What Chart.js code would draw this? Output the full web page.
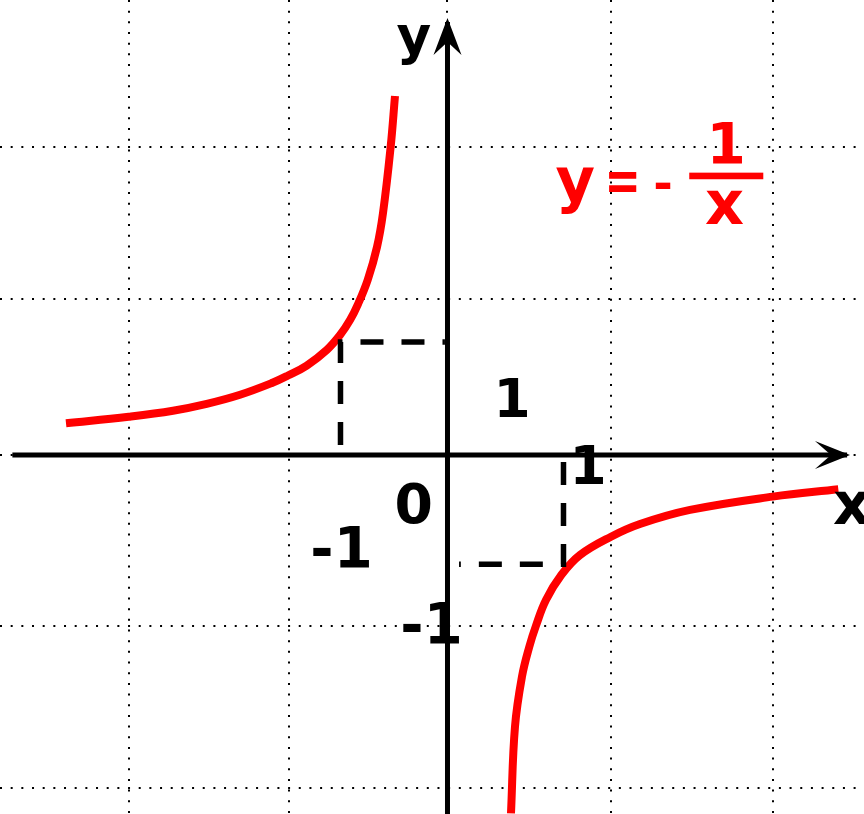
<!DOCTYPE html>
<html><head><meta charset="utf-8">
<style>html,body{margin:0;padding:0;background:#fff;}canvas{display:block;}</style>
<script src="https://cdn.jsdelivr.net/npm/chart.js@4"></script>
</head><body>
<canvas id="c" width="864" height="814"></canvas>
<script>
// ---- data (units: one dashed-square side = 1) ----
const leftBranchX = [-3.437,-2.872,-2.473,-2.169,-1.869,-1.572,-1.437,-1.268,-1.088,-0.968,-0.878,-0.806,-0.719,-0.635,-0.581,-0.512,-0.473];
const leftBranchY = [0.286,0.345,0.399,0.461,0.543,0.653,0.716,0.806,0.946,1.081,1.216,1.360,1.577,1.874,2.180,2.777,3.234];
const rightBranchX = [0.572,0.608,0.671,0.737,0.797,0.887,1.025,1.194,1.473,1.734,2.185,2.930,3.521];
const rightBranchY = [-3.228,-2.448,-1.997,-1.727,-1.538,-1.306,-1.081,-0.901,-0.736,-0.622,-0.495,-0.375,-0.309];
const xGridTicks = [-2.872,-1.431,0,1.473,2.930];
const yGridTicks = [2.777,1.403,0,-1.541,-3.003];
const guideLeftX = [-0.964,-0.964,-0.023];   // vertical end, corner, horizontal end
const guideLeftY = [0.09,1.018,1.018];
const guideRightX = [1.045,1.045,0.104];
const guideRightY = [-0.063,-0.985,-0.985];
const xAxisX = [-3.92,3.60];
const yAxisY = [-3.234,3.90];
const xRange = [-4.0315,3.7523];
const yRange = [-3.2342,4.0991];
const axisNames = ['y','x'];
const tickTexts = ['1','1','0','-1','-1'];
const formulaParts = ['y','=','-','1','x'];

// ---- layout of texts (positions in data units, ink sizes in px) ----
const tickLayout = [
  {cx:0.595, cy:0.518, h:39},
  {cx:1.279, cy:-0.086, h:39},
  {cx:-0.306, cy:-0.441, h:42},
  {cx:-0.955, cy:-0.833, h:41},
  {cx:-0.144, cy:-1.514, h:41}
];
const axisNameLayout = [
  {cx:-0.306, cy:3.698, h:41},
  {left:3.473, cy:-0.477, h:32.3}
];
const formulaLayout = [
  {cx:1.149, cy:2.387, h:46.7},
  {cx:1.581, cy:2.459, h:20, w:28},
  {cx:1.941, cy:2.432, h:6.6, w:15},
  {cx:2.523, cy:2.808, h:41.3},
  {cx:2.495, cy:2.237, h:33.3}
];
const FONT = '"DejaVu Sans"';

const pts = (xs, ys) => xs.map((x,i)=>({x, y: ys[i]}));

function drawInk(ctx, text, L, px, py){
  ctx.font = 'bold 100px ' + FONT;
  let m = ctx.measureText(text);
  const h100 = m.actualBoundingBoxAscent + m.actualBoundingBoxDescent;
  const w100 = m.actualBoundingBoxLeft + m.actualBoundingBoxRight;
  const size = L.h ? 100*L.h/h100 : 100*L.w/w100;
  ctx.font = 'bold ' + size.toFixed(2) + 'px ' + FONT;
  m = ctx.measureText(text);
  const asc = m.actualBoundingBoxAscent, desc = m.actualBoundingBoxDescent;
  const bl = m.actualBoundingBoxLeft, br = m.actualBoundingBoxRight;
  const inkW = bl + br;
  const sxf = (L.h && L.w) ? L.w / inkW : 1;
  const cyPix = py(L.cy);
  const baseY = cyPix + (asc - desc)/2;
  ctx.textAlign = 'left';
  ctx.textBaseline = 'alphabetic';
  ctx.save();
  if (L.left !== undefined) {
    ctx.translate(px(L.left), 0);
  } else {
    ctx.translate(px(L.cx) - sxf*inkW/2, 0);
  }
  ctx.scale(sxf, 1);
  ctx.fillText(text, bl, baseY);
  ctx.restore();
}

const annot = {
  id:'annot',
  afterDatasetsDraw(chart){
    const ctx = chart.ctx, sx = chart.scales.x, sy = chart.scales.y;
    const px = v => sx.getPixelForValue(v), py = v => sy.getPixelForValue(v);
    ctx.save();
    ctx.fillStyle = '#000';
    // x arrow head
    let tx = px(3.626), ty = py(0);
    ctx.beginPath();
    ctx.moveTo(tx, ty); ctx.lineTo(tx-35, ty-14); ctx.lineTo(tx-19, ty); ctx.lineTo(tx-35, ty+14); ctx.closePath(); ctx.fill();
    // y arrow head
    tx = px(0); ty = py(3.937);
    ctx.beginPath();
    ctx.moveTo(tx, ty); ctx.lineTo(tx-14, ty+37); ctx.lineTo(tx, ty+24); ctx.lineTo(tx+14, ty+37); ctx.closePath(); ctx.fill();
    // axis names and tick labels
    axisNames.forEach((t,i)=>drawInk(ctx, t, axisNameLayout[i], px, py));
    tickTexts.forEach((t,i)=>drawInk(ctx, t, tickLayout[i], px, py));
    // formula
    ctx.fillStyle = '#ff0000';
    formulaParts.forEach((t,i)=>drawInk(ctx, t, formulaLayout[i], px, py));
    const bx1 = px(2.178), bx2 = px(2.845), by = py(2.514);
    ctx.fillRect(bx1, by-3.3, bx2-bx1, 6.6);
    ctx.restore();
  }
};

const blackLine = {showLine:true, pointRadius:0, borderColor:'#000', fill:false};
const redLine = {showLine:true, pointRadius:0, borderColor:'#ff0000', borderWidth:8, tension:0.4, fill:false};
new Chart(document.getElementById('c'), {
  type:'scatter',
  data:{datasets:[
    {...blackLine, data: pts(guideLeftX, guideLeftY), borderWidth:5.5, borderDash:[23,18]},
    {...blackLine, data: pts(guideRightX, guideRightY), borderWidth:5.5, borderDash:[23,18]},
    {...blackLine, data: pts(xAxisX, [0,0]), borderWidth:5},
    {...blackLine, data: pts([0,0], yAxisY), borderWidth:5},
    {...redLine, data: pts(leftBranchX, leftBranchY)},
    {...redLine, data: pts(rightBranchX, rightBranchY)}
  ]},
  options:{
    responsive:false, animation:false, devicePixelRatio:1,
    layout:{padding:0},
    plugins:{legend:{display:false}, tooltip:{enabled:false}},
    scales:{
      x:{type:'linear', min:xRange[0], max:xRange[1],
         afterBuildTicks: a => { a.ticks = xGridTicks.map(v=>({value:v})); },
         ticks:{display:false}, grid:{color:'#000', lineWidth:2, drawTicks:false},
         border:{display:false, dash:[2,8.67]}},
      y:{type:'linear', min:yRange[0], max:yRange[1],
         afterBuildTicks: a => { a.ticks = yGridTicks.map(v=>({value:v})); },
         ticks:{display:false}, grid:{color:'#000', lineWidth:2, drawTicks:false},
         border:{display:false, dash:[2,8.67]}}
    }
  },
  plugins:[annot]
});
</script>
</body></html>
